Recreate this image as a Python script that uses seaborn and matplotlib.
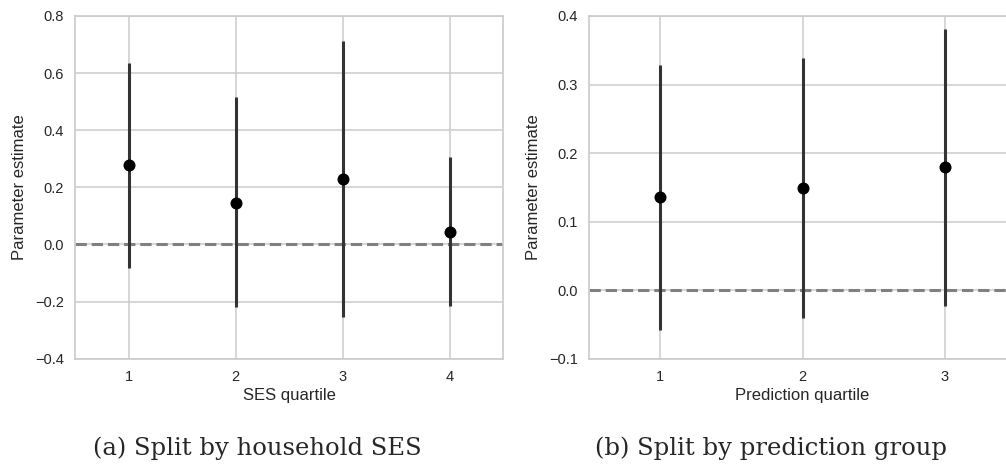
import numpy as np
import pandas as pd
import matplotlib
matplotlib.use("Agg")
import matplotlib.pyplot as plt
import seaborn as sns

# Estimates and 95% intervals
ses_quartile = [1, 2, 3, 4]
ses_est = [0.277, 0.145, 0.228, 0.044]
ses_lo = [-0.082, -0.220, -0.255, -0.215]
ses_hi = [0.634, 0.515, 0.711, 0.305]

pred_quartile = [1, 2, 3]
pred_est = [0.136, 0.149, 0.179]
pred_lo = [-0.058, -0.041, -0.023]
pred_hi = [0.328, 0.338, 0.381]

sns.set_style("whitegrid")
plt.rcParams['font.family'] = ['Liberation Sans', 'DejaVu Sans']
plt.rcParams['axes.edgecolor'] = '.8'
plt.rcParams['axes.linewidth'] = 1.25

fig = plt.figure(figsize=(10.06, 4.66), dpi=100)
ax1 = fig.add_axes([0.0746, 0.2303, 0.4254, 0.7354])
ax2 = fig.add_axes([0.5855, 0.2303, 0.4245, 0.7354])


def draw_panel(ax, xs, est, lo, hi, xlabel, ylim, yticks):
    df = pd.DataFrame({'q': xs, 'est': est, 'lo': lo, 'hi': hi})
    ax.axhline(0, color='gray', ls='--', lw=2.2, zorder=1)
    ax.vlines(df['q'], df['lo'], df['hi'], color='#333333', lw=2.2, zorder=2)
    sns.scatterplot(data=df, x='q', y='est', ax=ax, color='black', s=75,
                    edgecolor='black', linewidth=0, zorder=3)
    ax.set_xlim(0.5, len(xs) + 0.5)
    ax.set_xticks(xs)
    ax.set_ylim(*ylim)
    ax.set_yticks(yticks)
    ax.set_xlabel(xlabel, fontsize=12, color='.15', labelpad=3)
    ax.set_ylabel('Parameter estimate', fontsize=12, color='.15', labelpad=6)
    ax.tick_params(labelsize=10.5, colors='.15', length=0, pad=8)
    ax.grid(True, color='.8', lw=1.1)
    for s in ax.spines.values():
        s.set_color('.8')


draw_panel(ax1, ses_quartile, ses_est, ses_lo, ses_hi, 'SES quartile',
           (-0.4, 0.8), np.arange(-0.4, 0.81, 0.2))
draw_panel(ax2, pred_quartile, pred_est, pred_lo, pred_hi, 'Prediction quartile',
           (-0.1, 0.4), np.arange(-0.1, 0.41, 0.1))

fig.text(257 / 1006, 18 / 466, '(a) Split by household SES', ha='center', va='center',
         fontsize=17.5, family=['DejaVu Serif'])
fig.text(771 / 1006, 18 / 466, '(b) Split by prediction group', ha='center', va='center',
         fontsize=17.5, family=['DejaVu Serif'])

fig.savefig('out.png', dpi=100)
